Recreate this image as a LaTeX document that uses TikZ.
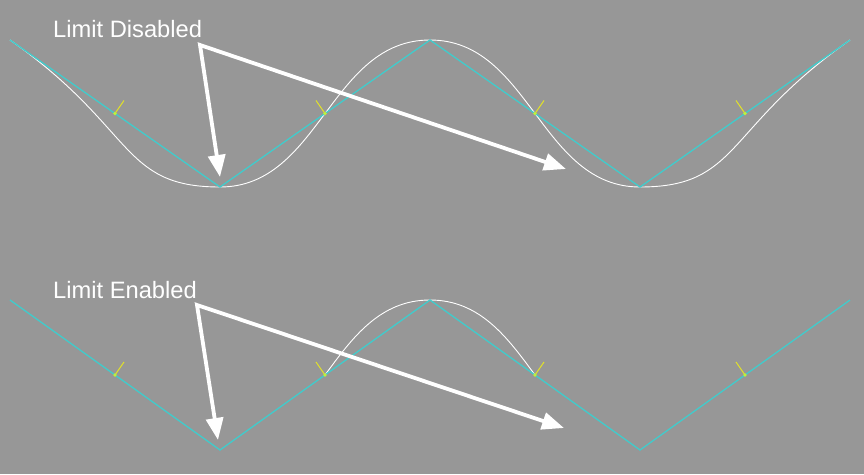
\documentclass[tikz,border=0pt]{standalone}
\usepackage{fontspec}
\setmainfont{Liberation Sans}
\usetikzlibrary{arrows.meta}
\definecolor{bg}{RGB}{151,151,151}
\definecolor{cyanline}{RGB}{64,204,204}
\definecolor{ticky}{RGB}{225,225,40}
\definecolor{doty}{RGB}{190,240,60}
\tikzset{
  polyline/.style={draw=cyanline, line width=1.3pt, line join=miter},
  splinecurve/.style={draw=white, line width=0.9pt},
  tickline/.style={draw=ticky, line width=1pt},
  tickdot/.style={fill=doty, draw=none},
  labeltext/.style={text=white, font=\fontsize{23.7}{28}\selectfont, inner sep=0pt, anchor=base west},
  pointer/.style={draw=white, line width=3.8pt, line join=miter,
    {Triangle[length=22pt,width=17pt]}-{Triangle[length=22pt,width=17pt]}}
}
\begin{document}
\begin{tikzpicture}[x=1pt,y=-1pt]
\fill[bg] (0,0) rectangle (864,474);
\useasboundingbox (0,0) rectangle (864,474);
% ---------- top (limit disabled) ----------
\coordinate (t0) at (10,40);
\coordinate (t1) at (220,187);
\coordinate (t2) at (430,40);
\coordinate (t3) at (640,187);
\coordinate (t4) at (850,40);
\draw[splinecurve] (t0) .. controls (136,128.2) and (120,187) .. (t1)
  .. controls (320,187) and (330,40) .. (t2)
  .. controls (530,40) and (540,187) .. (t3)
  .. controls (740,187) and (724,128.2) .. (t4);
\draw[polyline] (t0) -- (t1) -- (t2) -- (t3) -- (t4);
\coordinate (tm1) at (115,113.5);
\coordinate (tm2) at (325,113.5);
\coordinate (tm3) at (535,113.5);
\coordinate (tm4) at (745,113.5);
\draw[tickline] (tm1) -- ++(9,-13);
\draw[tickline] (tm2) -- ++(-9,-13);
\draw[tickline] (tm3) -- ++(9,-13);
\draw[tickline] (tm4) -- ++(-9,-13);
\foreach \m in {tm1,tm2,tm3,tm4} \fill[tickdot] (\m) circle (1.8pt);
\node[labeltext] (lblD) at (53,37) {Limit Disabled};
\coordinate (dS) at (200,45);
\coordinate (dA) at (220,177);
\coordinate (dB) at (566,169);
\draw[pointer] (dA) -- (dS) -- (dB);
% ---------- bottom (limit enabled) ----------
\coordinate (b0) at (10,300);
\coordinate (b1) at (220,450);
\coordinate (b2) at (430,300);
\coordinate (b3) at (640,450);
\coordinate (b4) at (850,300);
\coordinate (bm1) at (115,375);
\coordinate (bm2) at (325,375);
\coordinate (bm3) at (535,375);
\coordinate (bm4) at (745,375);
\draw[splinecurve] (bm2) .. controls (352.5,337.5) and (380,300) .. (b2)
  .. controls (480,300) and (507.5,337.5) .. (bm3);
\draw[polyline] (b0) -- (b1) -- (b2) -- (b3) -- (b4);
\draw[tickline] (bm1) -- ++(9,-13);
\draw[tickline] (bm2) -- ++(-9,-13);
\draw[tickline] (bm3) -- ++(9,-13);
\draw[tickline] (bm4) -- ++(-9,-13);
\foreach \m in {bm1,bm2,bm3,bm4} \fill[tickdot] (\m) circle (1.8pt);
\node[labeltext] (lblE) at (53,298) {Limit Enabled};
\coordinate (eS) at (197,305);
\coordinate (eA) at (218,440);
\coordinate (eB) at (564,428);
\draw[pointer] (eA) -- (eS) -- (eB);
\end{tikzpicture}
\end{document}
